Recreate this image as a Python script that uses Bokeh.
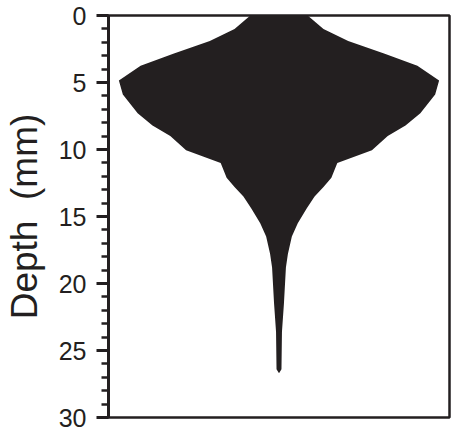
from bokeh.plotting import figure
from bokeh.models import Range1d, SingleIntervalTicker, ColumnDataSource
from bokeh.embed import file_html
from bokeh.resources import INLINE

# Kite-diagram profile: depth (mm) and half-width (relative abundance units)
depth = [0, 0.5, 1.0, 1.9, 2.85, 3.75, 4.85, 5.9, 7.3, 8.2, 9.0, 10.05, 11.0,
         12.1, 12.8, 13.5, 14.4, 15.5, 16.5, 17.8, 18.8, 21.5, 23.6, 26.4, 26.7]
half_width = [29, 37, 45, 70, 107, 140, 162, 158, 143, 128, 110, 94, 59,
              53, 45, 36, 28, 19, 13, 9, 7, 5, 3, 2.5, 0]

y_ticks_major = 5
y_min, y_max = 0, 30

ink = "#231f20"

src = ColumnDataSource(dict(
    y=depth,
    x1=[-h for h in half_width],
    x2=half_width,
))

p = figure(width=451, height=432, output_backend="svg", toolbar_location=None,
           x_range=Range1d(-172.5, 172.5), y_range=Range1d(y_max, y_min),
           min_border_left=104, min_border_right=2, min_border_top=15,
           min_border_bottom=15)

p.harea(x1="x1", x2="x2", y="y", source=src, fill_color=ink)

p.xaxis.visible = False
p.xgrid.visible = False
p.ygrid.visible = False
p.outline_line_color = ink
p.outline_line_width = 2.5
p.outline_line_alpha = 1

ax = p.yaxis[0]
ax.ticker = SingleIntervalTicker(interval=y_ticks_major, num_minor_ticks=5)
ax.axis_line_color = ink
ax.axis_line_width = 3
ax.major_tick_line_color = ink
ax.major_tick_line_width = 3
ax.major_tick_in = 0
ax.major_tick_out = 12
ax.minor_tick_line_color = ink
ax.minor_tick_line_width = 2.5
ax.minor_tick_in = 0
ax.minor_tick_out = 7
ax.major_label_text_font = "Liberation Sans"
ax.major_label_text_font_size = "25px"
ax.major_label_text_color = ink
ax.major_label_standoff = 10
ax.axis_label = "Depth\u00a0\u00a0(mm)"
ax.axis_label_text_font = "Liberation Sans"
ax.axis_label_text_font_size = "37px"
ax.axis_label_text_font_style = "normal"
ax.axis_label_text_color = ink
ax.axis_label_standoff = 11

open("out.html", "w").write(file_html(p, INLINE))
